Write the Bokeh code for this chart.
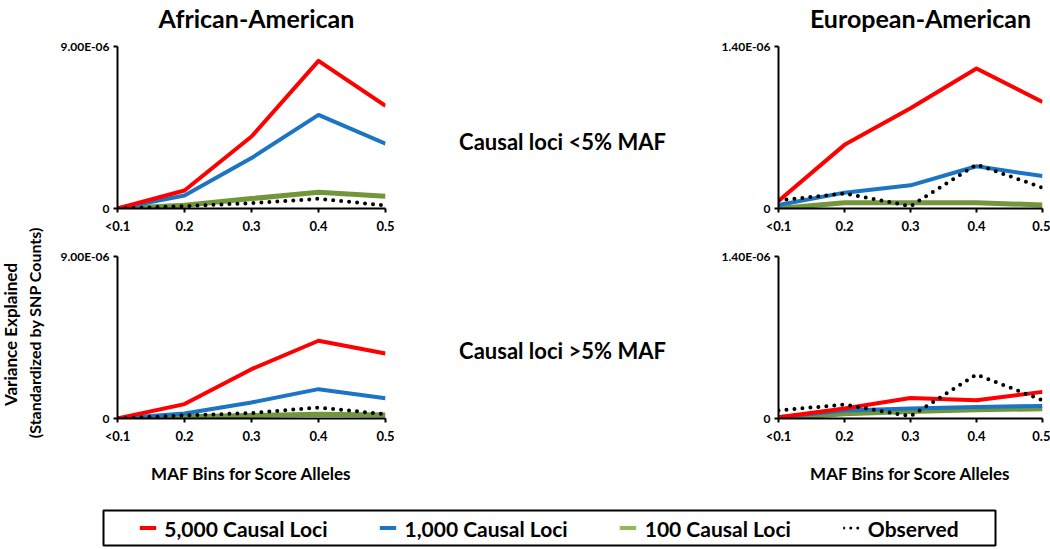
import math
from bokeh.plotting import figure
from bokeh.models import Range1d, FixedTicker, Label, Legend, LegendItem
from bokeh.layouts import row, column
from bokeh.embed import file_html
from bokeh.resources import INLINE

# ---------------- data ----------------
bins = [0.1, 0.2, 0.3, 0.4, 0.5]
bin_labels = ["<0.1", "0.2", "0.3", "0.4", "0.5"]

aa_ymax = 9.0e-6
aa_ytick_labels = ["0", "9.00E-06"]
ea_ymax = 1.4e-6
ea_ytick_labels = ["0", "1.40E-06"]

series_names = ["5,000 Causal Loci", "1,000 Causal Loci", "100 Causal Loci", "Observed"]

# African-American, causal loci <5% MAF
aa_lt5_5000 = [0.0, 1.0e-6, 4.0e-6, 8.2e-6, 5.7e-6]
aa_lt5_1000 = [0.0, 0.72e-6, 2.8e-6, 5.2e-6, 3.6e-6]
aa_lt5_100 = [0.0, 0.18e-6, 0.55e-6, 0.9e-6, 0.68e-6]
aa_lt5_obs = [0.0, 0.13e-6, 0.3e-6, 0.54e-6, 0.17e-6]

# European-American, causal loci <5% MAF
ea_lt5_5000 = [0.065e-6, 0.55e-6, 0.866e-6, 1.21e-6, 0.92e-6]
ea_lt5_1000 = [0.03e-6, 0.137e-6, 0.2e-6, 0.365e-6, 0.28e-6]
ea_lt5_100 = [0.0, 0.05e-6, 0.05e-6, 0.05e-6, 0.03e-6]
ea_lt5_obs = [0.07e-6, 0.13e-6, 0.02e-6, 0.38e-6, 0.18e-6]

# African-American, causal loci >5% MAF
aa_gt5_5000 = [0.0, 0.8e-6, 2.74e-6, 4.32e-6, 3.61e-6]
aa_gt5_1000 = [0.0, 0.28e-6, 0.89e-6, 1.63e-6, 1.13e-6]
aa_gt5_100 = [0.0, 0.1e-6, 0.17e-6, 0.24e-6, 0.2e-6]
aa_gt5_obs = [0.0, 0.17e-6, 0.3e-6, 0.61e-6, 0.24e-6]

# European-American, causal loci >5% MAF
ea_gt5_5000 = [0.01e-6, 0.086e-6, 0.177e-6, 0.158e-6, 0.23e-6]
ea_gt5_1000 = [0.01e-6, 0.07e-6, 0.086e-6, 0.1e-6, 0.108e-6]
ea_gt5_100 = [0.0, 0.04e-6, 0.06e-6, 0.075e-6, 0.085e-6]
ea_gt5_obs = [0.07e-6, 0.12e-6, 0.02e-6, 0.38e-6, 0.158e-6]

# ---------------- style ----------------
FONT = "Lato"
RED = "#ff0000"
BLUE = "#1b75c2"
GREEN = "#72973a"
GREEN_LEG = "#8dbd56"


def panel(width, height, mbl, mbr, mbt, mbb, ymax, ylabels, s5000, s1000, s100, sobs,
          xlabel=None):
    p = figure(width=width, height=height,
               x_range=Range1d(bins[0], bins[-1]), y_range=Range1d(0, ymax),
               output_backend="svg", toolbar_location=None,
               min_border_left=mbl, min_border_right=mbr,
               min_border_top=mbt, min_border_bottom=mbb)
    p.outline_line_color = None
    p.grid.visible = False
    for ax in (p.xaxis[0], p.yaxis[0]):
        ax.axis_line_width = 2
        ax.axis_line_color = "black"
        ax.major_tick_line_width = 2
        ax.major_tick_line_color = "black"
        ax.major_tick_in = 0
        ax.major_tick_out = 4
        ax.minor_tick_line_color = None
        ax.major_label_text_font = FONT
        ax.major_label_text_font_style = "bold"
        ax.major_label_text_color = "black"
    p.xaxis.ticker = FixedTicker(ticks=bins)
    p.xaxis.major_label_overrides = dict(zip(bins, bin_labels))
    p.xaxis.major_label_text_font_size = "13px"
    p.xaxis.major_label_standoff = 5
    p.yaxis.ticker = FixedTicker(ticks=[0, ymax])
    p.yaxis.major_label_overrides = dict(zip([0, ymax], ylabels))
    p.yaxis.major_label_text_font_size = "12px"
    p.yaxis.major_label_standoff = 4
    if xlabel:
        p.xaxis.axis_label = xlabel
        p.xaxis.axis_label_text_font = FONT
        p.xaxis.axis_label_text_font_size = "17px"
        p.xaxis.axis_label_text_font_style = "bold"
        p.xaxis.axis_label_text_color = "black"
        p.xaxis.axis_label_standoff = 16
    p.line(bins, s100, line_color=GREEN, line_width=5, line_join="round")
    p.line(bins, s1000, line_color=BLUE, line_width=4, line_join="round")
    p.line(bins, s5000, line_color=RED, line_width=4, line_join="round")
    p.line(bins, sobs, line_color="black", line_width=4, line_dash="0 8",
           line_cap="round", line_join="round")
    return p


def text_fig(width, height):
    # frame covers the whole canvas; data x/y equal pixel offsets within the figure
    p = figure(width=width, height=height,
               x_range=Range1d(0, width), y_range=Range1d(0, height),
               x_axis_location=None, y_axis_location=None,
               output_backend="svg", toolbar_location=None, min_border=0)
    p.outline_line_color = None
    p.grid.visible = False
    return p


def label(x, y, text, size, angle=0.0):
    return Label(x=x, y=y, text=text, angle=angle, text_align="center", text_baseline="middle",
                 text_font=FONT, text_font_size=size, text_font_style="bold", text_color="black")


TH = 38   # height of the title strip
LH = 57   # height of the legend strip
H = 549 - TH - LH  # height of the panel area

# title strip
titles = text_fig(1050, TH)
titles.add_layout(label(256, TH - 17, "African-American", "25px"))
titles.add_layout(label(920, TH - 17, "European-American", "25px"))

# left column: African-American
TL = panel(380, 236 - TH, 67, 45, 46 - TH, 28, aa_ymax, aa_ytick_labels,
           aa_lt5_5000, aa_lt5_1000, aa_lt5_100, aa_lt5_obs)
BL = panel(380, 256, 67, 45, 20, 74, aa_ymax, aa_ytick_labels,
           aa_gt5_5000, aa_gt5_1000, aa_gt5_100, aa_gt5_obs, xlabel="MAF Bins for Score Alleles")

# right column: European-American
TR = panel(350, 236 - TH, 78, 8, 46 - TH, 28, ea_ymax, ea_ytick_labels,
           ea_lt5_5000, ea_lt5_1000, ea_lt5_100, ea_lt5_obs)
BR = panel(350, 256, 78, 8, 20, 74, ea_ymax, ea_ytick_labels,
           ea_gt5_5000, ea_gt5_1000, ea_gt5_100, ea_gt5_obs, xlabel="MAF Bins for Score Alleles")

# middle column with the two row captions
mid = text_fig(270, H)
mid.add_layout(label(132, H - (141 - TH), "Causal loci <5% MAF", "22px"))
mid.add_layout(label(132, H - (350 - TH), "Causal loci >5% MAF", "22px"))

# y-axis label column
ylab = text_fig(50, H)
ylab.add_layout(label(10, H - (334 - TH), "Variance Explained", "17px", math.pi / 2))
ylab.add_layout(label(34, H - (332 - TH), "(Standardized by SNP Counts)", "16px", math.pi / 2))

# legend strip
leg = figure(width=1050, height=LH, x_range=Range1d(0, 1), y_range=Range1d(0, 1),
             x_axis_location=None, y_axis_location=None,
             output_backend="svg", toolbar_location=None,
             min_border_left=103, min_border_right=55, min_border_top=18, min_border_bottom=4)
leg.grid.visible = False
leg.outline_line_color = "black"
leg.outline_line_width = 2
nan = [float("nan")]
r1 = leg.line(x=nan, y=nan, line_color=RED, line_width=4)
r2 = leg.line(x=nan, y=nan, line_color=BLUE, line_width=4)
r3 = leg.line(x=nan, y=nan, line_color=GREEN_LEG, line_width=4)
r4 = leg.line(x=nan, y=nan, line_color="black", line_width=3, line_dash="0 7", line_cap="round")
legend = Legend(items=[LegendItem(label=n, renderers=[r]) for n, r in zip(series_names, [r1, r2, r3, r4])],
                orientation="horizontal", location="center", border_line_color=None,
                background_fill_alpha=0, padding=0, margin=0, spacing=52, label_standoff=8,
                glyph_width=17, glyph_height=20, label_text_font=FONT, label_text_font_size="21px",
                label_text_font_style="bold", label_text_color="black")
leg.add_layout(legend, "center")

# each strip is wrapped in its own row so that plot frames are not aligned across strips
layout = column(row(titles), row(ylab, column(TL, BL), mid, column(TR, BR)), row(leg))

open("out.html", "w").write(file_html(layout, INLINE))
